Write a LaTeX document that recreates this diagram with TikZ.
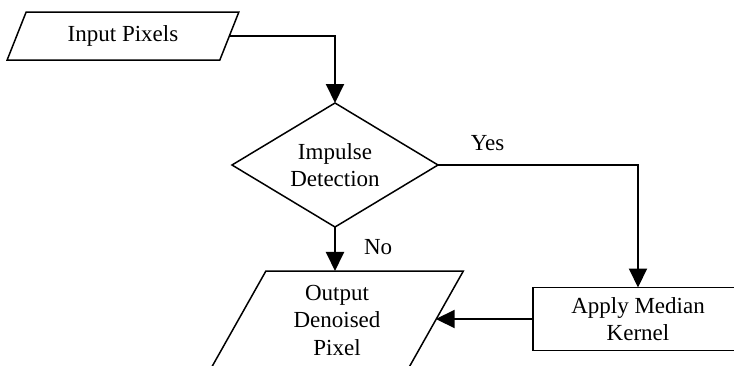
\documentclass[tikz,border=0pt]{standalone}
\usepackage{fontspec}
\setmainfont{Liberation Serif}
\usetikzlibrary{shapes.geometric,arrows.meta}
\begin{document}
\begin{tikzpicture}[x=1pt,y=-1pt,inner sep=0pt,outer sep=0pt,line width=1.5pt,
font=\fontsize{23}{27.5}\selectfont,
iobox/.style={draw,trapezium,trapezium stretches=true,align=center},
decision/.style={draw,diamond,aspect=1.66,minimum width=206pt,minimum height=124pt,align=center},
procblock/.style={draw,rectangle,minimum width=210pt,minimum height=63pt,align=center},
flow/.style={line width=2pt,-{Triangle[length=19pt,width=18pt]}}]
\useasboundingbox (0,0) rectangle (734,365);
\draw (123,36) node[iobox,trapezium left angle=62.5,trapezium right angle=117.5,minimum width=232pt,minimum height=48pt] (inp) {Input Pixels};
\draw (335,165) node[decision] (dec) {Impulse\\Detection};
\draw (337,320) node[iobox,trapezium left angle=64.4,trapezium right angle=115.6,minimum width=253pt,minimum height=98pt] (out) {Output\\Denoised\\Pixel};
\draw (638,319) node[procblock] (med) {Apply Median\\Kernel};
\draw[flow] (inp.east) -| (dec.north);
\draw[flow] (dec.south) -- (dec.south |- out.north) node[pos=0.45,right=26pt,inner sep=3pt] (nolbl) {No};
\draw[flow] (dec.east) -| (med.north) node[pos=0.124,above=11pt,inner sep=3pt] (yeslbl) {Yes};
\draw[flow] (med.west) -- (med.west -| out.east);
\end{tikzpicture}
\end{document}
